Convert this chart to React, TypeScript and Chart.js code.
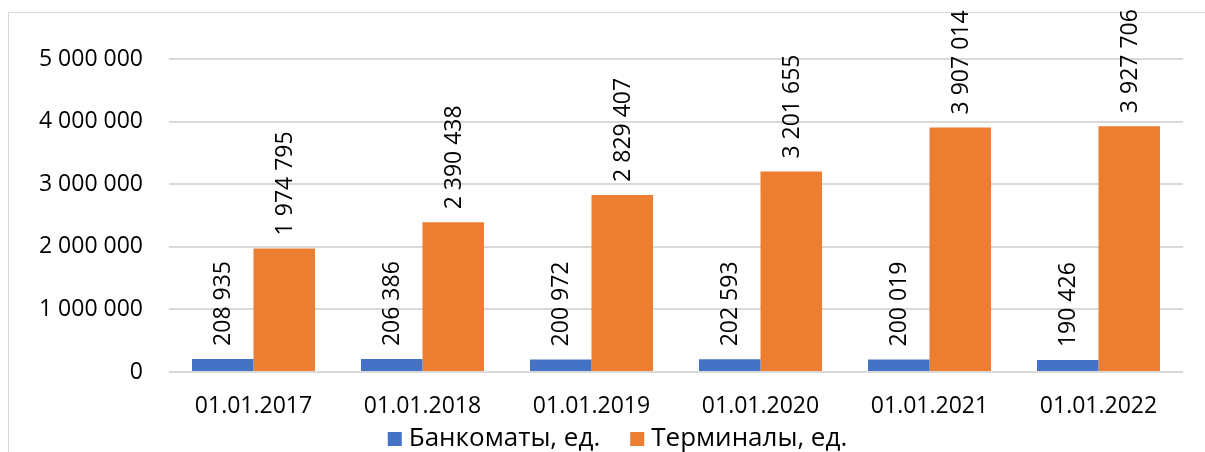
import React, { useEffect, useRef } from "react";
import { Chart, registerables } from "chart.js";

Chart.register(...registerables);

const categories = ["01.01.2017", "01.01.2018", "01.01.2019", "01.01.2020", "01.01.2021", "01.01.2022"];
const atmValues = [208935, 206386, 200972, 202593, 200019, 190426];
const terminalValues = [1974795, 2390438, 2829407, 3201655, 3907014, 3927706];
const seriesNames = ["Банкоматы, ед.", "Терминалы, ед."];

const FONT = "'Open Sans', sans-serif";
const TEXT = "#000000";

const fmt = (v: number) => String(Math.round(v)).replace(/\B(?=(\d{3})+(?!\d))/g, " ");

const frame = {
  id: "frame",
  beforeDraw(chart: any) {
    const ctx = chart.ctx;
    ctx.save();
    ctx.fillStyle = "#ffffff";
    ctx.fillRect(0, 0, chart.width, chart.height);
    ctx.strokeStyle = "#d9d9d9";
    ctx.lineWidth = 1;
    ctx.beginPath();
    ctx.moveTo(8.5, chart.height);
    ctx.lineTo(8.5, 12.5);
    ctx.lineTo(chart.width, 12.5);
    ctx.stroke();
    ctx.restore();
  },
};

const valueLabels = {
  id: "valueLabels",
  afterDatasetsDraw(chart: any) {
    const ctx = chart.ctx;
    ctx.save();
    ctx.fillStyle = TEXT;
    ctx.font = `23px ${FONT}`;
    ctx.textAlign = "left";
    ctx.textBaseline = "middle";
    chart.data.datasets.forEach((ds: any, di: number) => {
      const meta = chart.getDatasetMeta(di);
      meta.data.forEach((bar: any, i: number) => {
        ctx.save();
        ctx.translate(bar.x + 1, bar.y - 13);
        ctx.rotate(-Math.PI / 2);
        ctx.fillText(fmt(ds.data[i]), 0, 0);
        ctx.restore();
      });
    });
    ctx.restore();
  },
};

const bottomLegend = {
  id: "bottomLegend",
  afterDraw(chart: any) {
    const ctx = chart.ctx;
    ctx.save();
    ctx.font = `26px ${FONT}`;
    ctx.textBaseline = "middle";
    ctx.textAlign = "left";
    const box = 14;
    const gapText = 7;
    const gapItem = 30;
    const items = chart.data.datasets.map((ds: any) => ({
      label: ds.label,
      color: ds.backgroundColor,
      w: ctx.measureText(ds.label).width,
    }));
    const total = items.reduce((s: number, it: any) => s + box + gapText + it.w, 0) + gapItem * (items.length - 1);
    let x = 617.5 - total / 2;
    const cy = 439;
    items.forEach((it: any) => {
      ctx.fillStyle = it.color;
      ctx.fillRect(x, cy - box / 2, box, box);
      x += box + gapText;
      ctx.fillStyle = TEXT;
      ctx.fillText(it.label, x, cy);
      x += it.w + gapItem;
    });
    ctx.restore();
  },
};

export default function App() {
  const ref = useRef<HTMLCanvasElement | null>(null);
  useEffect(() => {
    if (!ref.current) return;
    const chart = new Chart(ref.current, {
      type: "bar",
      data: {
        labels: categories,
        datasets: [
          { label: seriesNames[0], data: atmValues, backgroundColor: "#4472C4", categoryPercentage: 0.728, barPercentage: 1 },
          { label: seriesNames[1], data: terminalValues, backgroundColor: "#ED7D31", categoryPercentage: 0.728, barPercentage: 1 },
        ],
      },
      options: {
        responsive: false,
        animation: false,
        layout: { padding: { left: 0, top: 59, right: 22, bottom: 0 } },
        plugins: {
          tooltip: { enabled: false },
          legend: { display: false },
        },
        scales: {
          x: {
            grid: { display: false, drawTicks: false },
            border: { display: false },
            ticks: { color: TEXT, font: { family: FONT, size: 23 }, padding: 21, maxRotation: 0 },
            afterFit: (s: any) => {
              s.height = 80;
            },
          },
          y: {
            min: 0,
            max: 5000000,
            grid: { color: "#d9d9d9", lineWidth: 2, drawTicks: false },
            border: { display: false },
            ticks: {
              stepSize: 1000000,
              color: TEXT,
              font: { family: FONT, size: 23 },
              padding: 26,
              callback: (v: any) => fmt(Number(v)),
            },
            afterFit: (s: any) => {
              s.width = 169;
            },
          },
        },
      },
      plugins: [frame, valueLabels, bottomLegend],
    });
    return () => chart.destroy();
  }, []);
  return (
    <div style={{ position: "fixed", left: 0, top: 0, width: 1205, height: 452 }}>
      <canvas ref={ref} width={1205} height={452} style={{ display: "block" }} />
    </div>
  );
}
